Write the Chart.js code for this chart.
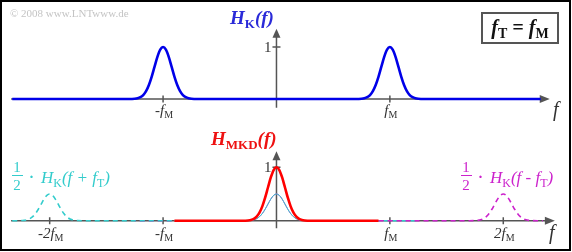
<!DOCTYPE html>
<html>
<head>
<meta charset="utf-8">
<script src="https://cdn.jsdelivr.net/npm/chart.js@4"></script>
<style>
  body { margin: 0; background: #fff; }
  #wrap { position: relative; width: 572px; height: 252px; }
  #frame { position: absolute; left: 0; top: 0; width: 571px; height: 251px; border: 2px solid #000; box-sizing: border-box; pointer-events: none; }
</style>
</head>
<body>
<div id="wrap">
  <canvas id="chart" width="572" height="252"></canvas>
  <div id="frame"></div>
</div>
<script>
// frequency in units of f_M, spectra normalised to a peak of 1
const pulseOffsets = [-0.3, -0.25, -0.225, -0.2, -0.175, -0.15, -0.125, -0.1, -0.075, -0.05, -0.025, 0,
                      0.025, 0.05, 0.075, 0.1, 0.125, 0.15, 0.175, 0.2, 0.225, 0.25, 0.3];
const pulseShape = [0, 0.005, 0.014, 0.034, 0.076, 0.15, 0.268, 0.43, 0.622, 0.81, 0.949, 1,
                    0.949, 0.81, 0.622, 0.43, 0.268, 0.15, 0.076, 0.034, 0.014, 0.005, 0];

const hkPeaks = [-1, 1];        // H_K(f)
const plusPeaks = [-2, 0];      // H_K(f + f_T), f_T = f_M
const minusPeaks = [0, 2];      // H_K(f - f_T)
const mkdPeaks = [0];           // H_MKD(f)

const topTicks = [-1, 1];
const topTickLabels = ['-f_{M}', 'f_{M}'];
const bottomTicks = [-2, -1, 1, 2];
const bottomTickLabels = ['-2f_{M}', '-f_{M}', 'f_{M}', '2f_{M}'];

const SERIF = '"Liberation Serif", "Times New Roman", serif';
const AXIS = '#555555';
const CYAN = '#33cccc';
const MAGENTA = '#cc22cc';

function buildCurve(from, to, peaks, gain) {
    const pts = [{x: from, y: 0}];
    peaks.forEach(p => {
        pulseOffsets.forEach((d, i) => {
            const x = p + d;
            if (x > from && x < to) pts.push({x: x, y: gain * pulseShape[i]});
        });
    });
    pts.push({x: to, y: 0});
    return pts;
}

// text with "_{..}" subscripts: main part italic, subscript upright
function drawRich(ctx, str, x, y, size, opt) {
    opt = opt || {};
    const bold = opt.bold ? 'bold ' : '';
    const parts = [];
    str.split(/(_\{[^}]*\})/).forEach(s => {
        if (!s) return;
        if (s.startsWith('_{')) parts.push({t: s.slice(2, -1), font: bold + Math.round(size * 0.68) + 'px ' + SERIF, dy: size * 0.22});
        else parts.push({t: s, font: 'italic ' + bold + size + 'px ' + SERIF, dy: 0});
    });
    let w = 0;
    parts.forEach(p => { ctx.font = p.font; p.w = ctx.measureText(p.t).width; w += p.w; });
    let cx = opt.align === 'center' ? x - w / 2 : (opt.align === 'right' ? x - w : x);
    ctx.textAlign = 'left';
    ctx.textBaseline = 'alphabetic';
    ctx.fillStyle = opt.color || '#333';
    parts.forEach(p => { ctx.font = p.font; ctx.fillText(p.t, cx, y + p.dy); cx += p.w; });
    return w;
}

function arrowH(ctx, x, y) {
    ctx.beginPath(); ctx.moveTo(x, y); ctx.lineTo(x - 10, y - 4); ctx.lineTo(x - 10, y + 4); ctx.closePath(); ctx.fill();
}
function arrowV(ctx, x, y) {
    ctx.beginPath(); ctx.moveTo(x, y); ctx.lineTo(x - 4, y + 9); ctx.lineTo(x + 4, y + 9); ctx.closePath(); ctx.fill();
}

const axesPlugin = {
    id: 'axes',
    beforeDatasetsDraw(chart) {
        const ctx = chart.ctx, sx = chart.scales.x;
        const panels = [
            {y: chart.scales.yTop, x0: -2.34, x1: 2.41, v0: -0.17, v1: 1.35, ticks: topTicks},
            {y: chart.scales.yBot, x0: -2.34, x1: 2.455, v0: -0.14, v1: 1.30, ticks: bottomTicks}
        ];
        ctx.save();
        ctx.strokeStyle = AXIS; ctx.fillStyle = AXIS; ctx.lineWidth = 1.5;
        panels.forEach(p => {
            const by = p.y.getPixelForValue(0), ax = sx.getPixelForValue(0);
            ctx.beginPath();
            ctx.moveTo(sx.getPixelForValue(p.x0), by); ctx.lineTo(sx.getPixelForValue(p.x1) - 6, by);
            ctx.moveTo(ax, p.y.getPixelForValue(p.v0)); ctx.lineTo(ax, p.y.getPixelForValue(p.v1) + 6);
            p.ticks.forEach(t => { const tx = sx.getPixelForValue(t); ctx.moveTo(tx, by - 3.5); ctx.lineTo(tx, by + 3.5); });
            const oy = p.y.getPixelForValue(1);
            ctx.moveTo(ax - 4, oy); ctx.lineTo(ax + 4, oy);
            ctx.stroke();
            arrowH(ctx, sx.getPixelForValue(p.x1), by);
            arrowV(ctx, ax, p.y.getPixelForValue(p.v1));
        });
        ctx.restore();
    },
    afterDraw(chart) {
        const ctx = chart.ctx, sx = chart.scales.x;
        const yT = chart.scales.yTop, yB = chart.scales.yBot;
        ctx.save();
        // copyright
        ctx.font = '11px ' + SERIF; ctx.fillStyle = '#c4c4c4'; ctx.textAlign = 'left'; ctx.textBaseline = 'alphabetic';
        ctx.fillText('\u00a9 2008 www.LNTwww.de', 10, 17);

        // tick labels
        topTicks.forEach((t, i) => drawRich(ctx, topTickLabels[i], sx.getPixelForValue(t) + 1, yT.getPixelForValue(0) + 16, 15, {align: 'center'}));
        bottomTicks.forEach((t, i) => drawRich(ctx, bottomTickLabels[i], sx.getPixelForValue(t) + 1, yB.getPixelForValue(0) + 17, 15, {align: 'center'}));

        // "1" labels
        ctx.font = '15px ' + SERIF; ctx.fillStyle = '#333'; ctx.textAlign = 'right';
        ctx.fillText('1', sx.getPixelForValue(0) - 5, yT.getPixelForValue(1) + 5);
        ctx.fillText('1', sx.getPixelForValue(0) - 5, yB.getPixelForValue(1) + 5);

        // axis names
        drawRich(ctx, 'f', 553, 116, 20, {align: 'left'});
        drawRich(ctx, 'f', 549, 239, 20, {align: 'left'});

        // curve titles
        drawRich(ctx, 'H_{K}(f)', 230, 24, 19, {bold: true, color: '#2a2ad8'});
        drawRich(ctx, 'H_{MKD}(f)', 211, 145, 19, {bold: true, color: '#ee1111'});

        // 1/2 * H_K(f +- f_T)
        [[12, CYAN, 'H_{K}(f + f_{T})'], [461, MAGENTA, 'H_{K}(f - f_{T})']].forEach(l => {
            const x = l[0];
            ctx.fillStyle = l[1]; ctx.strokeStyle = l[1];
            ctx.font = '15px ' + SERIF; ctx.textAlign = 'center';
            ctx.fillText('1', x + 5, 172);
            ctx.fillText('2', x + 5, 190);
            ctx.lineWidth = 1; ctx.beginPath(); ctx.moveTo(x, 175.5); ctx.lineTo(x + 11, 175.5); ctx.stroke();
            ctx.font = 'bold 15px ' + SERIF; ctx.textAlign = 'left';
            ctx.fillText('\u00b7', x + 17, 182);
            drawRich(ctx, l[2], x + 29, 183, 17, {color: l[1]});
        });

        // f_T = f_M box
        ctx.strokeStyle = '#555'; ctx.lineWidth = 2;
        ctx.strokeRect(482, 13, 76, 30);
        drawRich(ctx, 'f_{T} = f_{M}', 520, 34, 20, {bold: true, align: 'center', color: '#111'});
        ctx.restore();
    }
};

const thin = {pointRadius: 0, borderWidth: 1, yAxisID: 'yBot'};
new Chart(document.getElementById('chart'), {
    type: 'line',
    data: {
        datasets: [
            {data: buildCurve(-0.9, 0.9, mkdPeaks, 1), yAxisID: 'yBot', borderColor: '#ff0000', borderWidth: 2.6, order: 0},
            Object.assign({data: buildCurve(-0.9, 0.9, plusPeaks, 0.5), borderColor: CYAN, order: 1}, thin),
            Object.assign({data: buildCurve(-0.9, 0.9, minusPeaks, 0.5), borderColor: MAGENTA, order: 2}, thin),
            {data: buildCurve(-2.33, -0.9, plusPeaks, 0.5), yAxisID: 'yBot', borderColor: CYAN, borderWidth: 1.6, borderDash: [5, 4], order: 3},
            {data: buildCurve(-1.25, -0.9, minusPeaks, 0.5), yAxisID: 'yBot', borderColor: MAGENTA, borderWidth: 1.6, borderDash: [5, 4], borderDashOffset: 4, order: 4},
            {data: buildCurve(0.9, 2.35, minusPeaks, 0.5), yAxisID: 'yBot', borderColor: MAGENTA, borderWidth: 1.6, borderDash: [5, 4], order: 5},
            {data: buildCurve(0.9, 1.25, plusPeaks, 0.5), yAxisID: 'yBot', borderColor: CYAN, borderWidth: 1.6, borderDash: [5, 4], borderDashOffset: 4, order: 6},
            {data: buildCurve(-2.33, 2.33, hkPeaks, 1), yAxisID: 'yTop', borderColor: '#0000e8', borderWidth: 2.6, order: 7}
        ]
    },
    options: {
        responsive: false,
        animation: false,
        devicePixelRatio: 1,
        layout: {padding: 0},
        elements: {point: {radius: 0}, line: {cubicInterpolationMode: 'monotone', borderCapStyle: 'butt'}},
        plugins: {legend: {display: false}, tooltip: {enabled: false}},
        scales: {
            x: {type: 'linear', min: -2.438, max: 2.606, display: false},
            yTop: {type: 'linear', min: -2.942, max: 1.904, display: false},
            yBot: {type: 'linear', min: -0.586, max: 4.133, display: false}
        }
    },
    plugins: [axesPlugin]
});
</script>
</body>
</html>
